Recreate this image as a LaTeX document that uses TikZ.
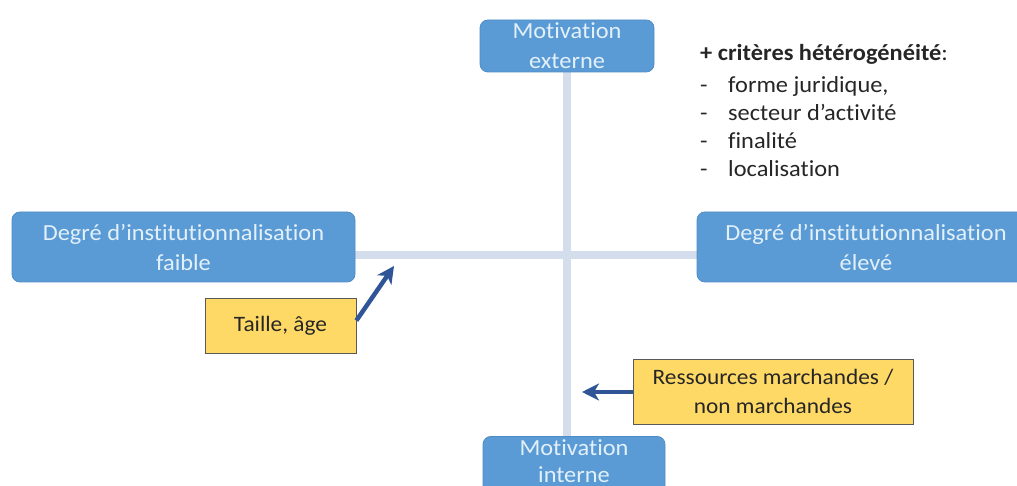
\documentclass[tikz,border=0pt]{standalone}
\usepackage{fontspec}
\setmainfont{Carlito}[FakeStretch=1.06,Ligatures=NoCommon]
\usetikzlibrary{arrows.meta,backgrounds}
\definecolor{boxblue}{HTML}{5B9BD5}
\definecolor{boxedge}{HTML}{4F8CC6}
\definecolor{boxtext}{HTML}{E2F0FA}
\definecolor{axiscol}{HTML}{D3DDEB}
\definecolor{noteyellow}{HTML}{FFD966}
\definecolor{arrowblue}{HTML}{2F5597}
\definecolor{txt}{HTML}{262626}
\tikzset{
  pole/.style={draw=boxedge, line width=0.8pt, fill=boxblue, rounded corners=8pt,
    text=boxtext, align=center, inner sep=0pt,
    font=\fontsize{23}{30}\selectfont},
  note/.style={draw=black!65, line width=0.8pt, fill=noteyellow, text=txt,
    align=center, inner sep=0pt, font=\fontsize{22}{29}\selectfont},
  axis/.style={draw=axiscol, line width=8pt},
  pointer/.style={draw=arrowblue, line width=4.5pt, -{Stealth[length=17pt,width=17pt,inset=5pt]}},
  listtxt/.style={anchor=base west, text=txt, inner sep=0pt, font=\fontsize{23}{28}\selectfont}
}
\begin{document}
\begin{tikzpicture}[x=1pt,y=-1pt]
\useasboundingbox (0,0) rectangle (1017,486);
% poles
\node[pole, minimum width=174pt, minimum height=52pt] (top) at (567,46) {Motivation\\externe};
\node[pole, minimum width=343pt, minimum height=70pt] (left) at (183.5,247) {Degré d’institutionnalisation\\faible};
\node[pole, minimum width=338pt, minimum height=70pt] (right) at (866,247) {Degré d’institutionnalisation\\élevé};
\node[pole, anchor=north, inner ysep=3pt, minimum width=182pt, minimum height=70pt, text depth=24pt,
  font=\fontsize{23}{27}\selectfont] (bottom) at (574,436) {Motivation\\interne};
% axes behind the poles
\begin{pgfonlayer}{background}
\draw[axis] (top.south) -- (top.south |- bottom.north);
\draw[axis] ([yshift=-8pt]left.east) -- ([yshift=-8pt]right.west);
\end{pgfonlayer}
% notes
\node[note, minimum width=151pt, minimum height=55pt] (taille) at (280.5,325.5) {Taille, âge};
\node[note, minimum width=280pt, minimum height=65pt] (ress) at (773,391.5) {Ressources marchandes /\\non marchandes};
\coordinate (tailletip) at (394,266);
\coordinate (resstip) at (582,392);
\draw[pointer] ([yshift=5pt]taille.east) -- (tailletip);
\draw[pointer] (ress.west |- resstip) -- (resstip);
% criteria list
\node[listtxt] (head) at (700,61) {\textbf{+ critères hétérogénéité}:};
\node[listtxt] (d1) at (700,93) {-};
\node[listtxt] (l1) at (728,93) {forme juridique,};
\node[listtxt] (d2) at (700,121) {-};
\node[listtxt] (l2) at (728,121) {secteur d’activité};
\node[listtxt] (d3) at (700,149) {-};
\node[listtxt] (l3) at (728,149) {finalité};
\node[listtxt] (d4) at (700,177) {-};
\node[listtxt] (l4) at (728,177) {localisation};
\end{tikzpicture}
\end{document}
